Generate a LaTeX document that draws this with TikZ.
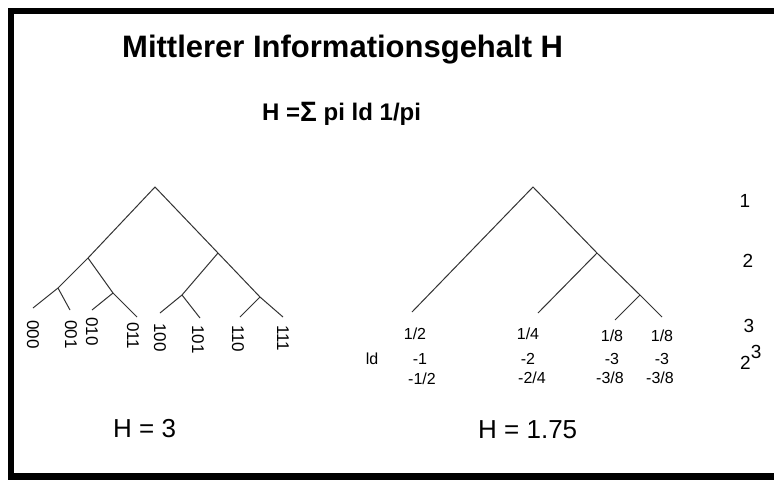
\documentclass[tikz,border=0pt]{standalone}
\usepackage{fontspec}
\setmainfont{Liberation Sans}
\begin{document}
\begin{tikzpicture}[x=1pt,y=-1pt,
  branch/.style={draw=black!80,line width=1pt},
  leaflbl/.style={rotate=-90,anchor=west,inner sep=0pt,font=\fontsize{17}{17}\selectfont},
  prob/.style={anchor=base,inner sep=0pt,font=\fontsize{16}{16}\selectfont},
  level/.style={anchor=base,inner sep=0pt,font=\fontsize{19}{19}\selectfont},
  result/.style={anchor=base west,inner sep=0pt,font=\fontsize{26}{26}\selectfont}]
\useasboundingbox (0,0) rectangle (774,480);
\fill[white] (0,0) rectangle (774,480);

% frame
\fill[black] (8,8) rectangle (774,14);
\fill[black] (8,8) rectangle (14,480);
\fill[black] (8,473) rectangle (774,480);

% headings
\node[anchor=base west,inner sep=0pt,font=\fontsize{31}{31}\bfseries\selectfont] (title) at (122,57.5) {Mittlerer Informationsgehalt H};
\node[anchor=base west,inner sep=0pt,font=\fontsize{24}{24}\bfseries\selectfont] (formula) at (262,120) {H =\raisebox{-0.05em}{\fontsize{28}{28}\selectfont Σ} pi ld 1/pi};

% uniform code tree (depth 3)
\coordinate (L0) at (155,187);
\coordinate (La) at (88,258);
\coordinate (Lb) at (218,253);
\coordinate (Laa) at (58,288);
\coordinate (Lab) at (113,293);
\coordinate (Lba) at (182,295);
\coordinate (Lbb) at (260,297);
\coordinate (l000) at (33,308);
\coordinate (l001) at (70,310);
\coordinate (l010) at (92,310);
\coordinate (l011) at (137,317);
\coordinate (l100) at (160,313);
\coordinate (l101) at (200,318);
\coordinate (l110) at (240,317);
\coordinate (l111) at (283,317);
\draw[branch] (l000) -- (Laa) -- (La) -- (L0) -- (Lb) -- (Lbb) -- (l111);
\draw[branch] (Laa) -- (l001);
\draw[branch] (La) -- (Lab) -- (l011);
\draw[branch] (Lab) -- (l010);
\draw[branch] (Lb) -- (Lba) -- (l100);
\draw[branch] (Lba) -- (l101);
\draw[branch] (Lbb) -- (l110);

\node[leaflbl] (t000) at (33,320) {000};
\node[leaflbl] (t001) at (71,320) {001};
\node[leaflbl] (t010) at (92,317) {010};
\node[leaflbl] (t011) at (133,322) {011};
\node[leaflbl] (t100) at (160,323) {100};
\node[leaflbl] (t101) at (198,325) {101};
\node[leaflbl] (t110) at (238,325) {110};
\node[leaflbl] (t111) at (283,325) {111};

% skewed code tree
\coordinate (R0) at (533,187);
\coordinate (Rb) at (597,253);
\coordinate (Rbb) at (640,295);
\coordinate (r1) at (412,312);
\coordinate (r2) at (538,313);
\coordinate (r3) at (615,320);
\coordinate (r4) at (662,317);
\draw[branch] (r1) -- (R0) -- (Rb) -- (Rbb) -- (r4);
\draw[branch] (Rb) -- (r2);
\draw[branch] (Rbb) -- (r3);

\node[prob] (p1) at (415,339) {1/2};
\node[prob] (p2) at (528,339) {1/4};
\node[prob] (p3) at (612,341) {1/8};
\node[prob] (p4) at (662,341) {1/8};
\node[prob] (ld) at (372,364) {ld};
\node[prob] (d1) at (420,364) {-1};
\node[prob] (d2) at (528,364) {-2};
\node[prob] (d3) at (612,364) {-3};
\node[prob] (d4) at (662,364) {-3};
\node[prob] (w1) at (422,384) {-1/2};
\node[prob] (w2) at (532,383) {-2/4};
\node[prob] (w3) at (610,383) {-3/8};
\node[prob] (w4) at (660,383) {-3/8};

% depth column
\node[level] (n1) at (745,207) {1};
\node[level] (n2) at (748,267) {2};
\node[level] (n3) at (749,332) {3};
\node[level,anchor=base west] (n8) at (740,369) {2\raisebox{0.55em}{3}};

% results
\node[result] (h1) at (113,437) {H = 3};
\node[result] (h2) at (478,438) {H = 1.75};
\end{tikzpicture}
\end{document}
